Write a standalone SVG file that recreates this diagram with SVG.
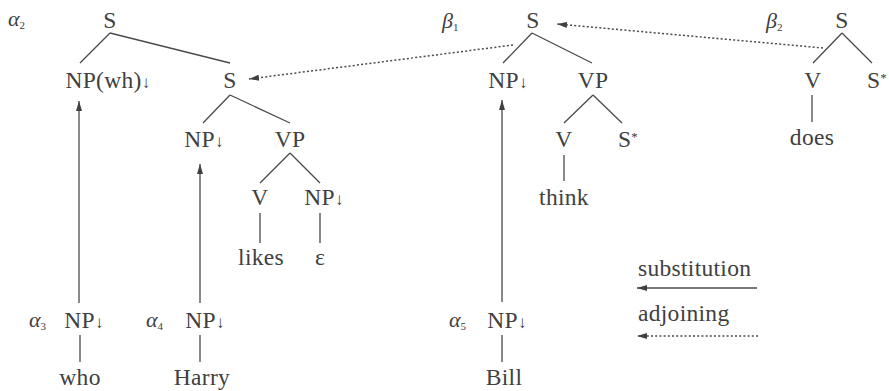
<svg xmlns="http://www.w3.org/2000/svg" width="889" height="391" viewBox="0 0 889 391">
<style>
.t{font-family:"Liberation Serif","Times New Roman",serif;font-size:23.5px;letter-spacing:0.3px;fill:#404040;text-anchor:middle}
.g{font-family:"Liberation Serif","Times New Roman",serif;font-size:22px;font-style:italic;fill:#404040}
.sub{font-size:11px;font-style:normal}
.ar{font-size:17px}
.st{font-size:13px}
.e{stroke:#4a4a4a;stroke-width:1.3;fill:none}
.d{stroke:#4a4a4a;stroke-width:1.5;fill:none;stroke-dasharray:2 2.2}
</style>
<defs>
<marker id="ah" viewBox="0 0 10 6" refX="10" refY="3" markerWidth="10" markerHeight="6" markerUnits="userSpaceOnUse" orient="auto">
<path d="M0,0 L10,3 L0,6 z" fill="#404040"/>
</marker>
</defs>
<rect width="889" height="391" fill="#ffffff"/>

<g id="connectors">
<path class="e" d="M110,33 L80,63 M110,33 L230,63"/>
<path class="e" d="M230,95 L203,123 M230,95 L290,123"/>
<path class="e" d="M290,153 L260,183 M290,153 L320,183"/>
<path class="e" d="M260,213 L260,243 M320,213 L320,243"/>
<path class="e" d="M80,335 L80,362"/>
<path class="e" d="M200,335 L200,362"/>
<path class="e" d="M502,335 L502,362"/>
<path class="e" d="M532,33 L503,63 M532,33 L592,63"/>
<path class="e" d="M593,95 L564,123 M593,95 L622,123"/>
<path class="e" d="M564,155 L564,181"/>
<path class="e" d="M842,33 L813,63 M842,33 L872,63"/>
<path class="e" d="M812,95 L812,122"/>
<line class="e" x1="79" y1="303" x2="79" y2="101" marker-end="url(#ah)"/>
<line class="e" x1="200" y1="303" x2="200" y2="164" marker-end="url(#ah)"/>
<line class="e" x1="502" y1="302" x2="502" y2="100" marker-end="url(#ah)"/>
<line class="d" x1="513" y1="45" x2="249" y2="79" marker-end="url(#ah)"/>
<line class="d" x1="823" y1="48" x2="557" y2="24" marker-end="url(#ah)"/>
<line class="e" x1="757" y1="288" x2="637" y2="288" marker-end="url(#ah)"/>
<line class="d" x1="758" y1="336" x2="637" y2="336" marker-end="url(#ah)"/>
</g>

<g id="label-alpha2"><text class="g" x="8" y="26">α<tspan class="sub" dy="3">2</tspan></text></g>
<g id="a2-S"><text class="t" x="110" y="28">S</text></g>
<g id="a2-NPwh"><text class="t" x="108" y="88">NP(wh)<tspan class="ar">↓</tspan></text></g>
<g id="a2-S2"><text class="t" x="230" y="88">S</text></g>
<g id="a2-NP"><text class="t" x="204" y="147">NP<tspan class="ar">↓</tspan></text></g>
<g id="a2-VP"><text class="t" x="290" y="147">VP</text></g>
<g id="a2-V"><text class="t" x="260" y="205">V</text></g>
<g id="a2-NP2"><text class="t" x="324" y="205">NP<tspan class="ar">↓</tspan></text></g>
<g id="a2-likes"><text class="t" x="261" y="265">likes</text></g>
<g id="a2-eps"><text class="t" x="320" y="265">ε</text></g>

<g id="label-alpha3"><text class="g" x="29" y="327">α<tspan class="sub" dy="3">3</tspan></text></g>
<g id="a3-NP"><text class="t" x="84" y="328">NP<tspan class="ar">↓</tspan></text></g>
<g id="a3-who"><text class="t" x="80" y="385">who</text></g>

<g id="label-alpha4"><text class="g" x="146" y="327">α<tspan class="sub" dy="3">4</tspan></text></g>
<g id="a4-NP"><text class="t" x="205" y="328">NP<tspan class="ar">↓</tspan></text></g>
<g id="a4-Harry"><text class="t" x="202" y="385">Harry</text></g>

<g id="label-beta1"><text class="g" x="442" y="28">β<tspan class="sub" dy="3">1</tspan></text></g>
<g id="b1-S"><text class="t" x="533" y="28">S</text></g>
<g id="b1-NP"><text class="t" x="508" y="88">NP<tspan class="ar">↓</tspan></text></g>
<g id="b1-VP"><text class="t" x="593" y="88">VP</text></g>
<g id="b1-V"><text class="t" x="564" y="147">V</text></g>
<g id="b1-Sstar"><text class="t" x="628" y="147">S<tspan class="st" dy="-6">*</tspan></text></g>
<g id="b1-think"><text class="t" x="564" y="205">think</text></g>

<g id="label-alpha5"><text class="g" x="449" y="327">α<tspan class="sub" dy="3">5</tspan></text></g>
<g id="a5-NP"><text class="t" x="507" y="328">NP<tspan class="ar">↓</tspan></text></g>
<g id="a5-Bill"><text class="t" x="504" y="385">Bill</text></g>

<g id="label-beta2"><text class="g" x="766" y="28">β<tspan class="sub" dy="3">2</tspan></text></g>
<g id="b2-S"><text class="t" x="842" y="28">S</text></g>
<g id="b2-V"><text class="t" x="813" y="88">V</text></g>
<g id="b2-Sstar"><text class="t" x="877" y="88">S<tspan class="st" dy="-6">*</tspan></text></g>
<g id="b2-does"><text class="t" x="812" y="145">does</text></g>

<g id="legend">
<text class="t" x="638" y="276" style="text-anchor:start">substitution</text>
<text class="t" x="638" y="321" style="text-anchor:start">adjoining</text>
</g>
</svg>
